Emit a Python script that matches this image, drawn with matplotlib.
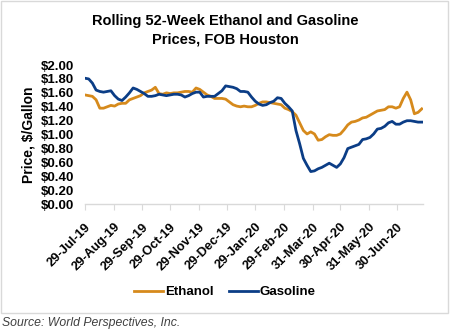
import matplotlib
matplotlib.use("Agg")
import matplotlib.pyplot as plt
from matplotlib.lines import Line2D
from matplotlib.patches import Rectangle
import pandas as pd

plt.rcParams['font.family'] = ['Liberation Sans', 'DejaVu Sans']

title = "Rolling 52-Week Ethanol and Gasoline\nPrices, FOB Houston"
ylabel = "Price, $/Gallon"
source = "Source: World Perspectives, Inc."
series_names = ["Ethanol", "Gasoline"]

dates = pd.date_range("2019-07-29", periods=92, freq="4D")

ethanol = [1.57, 1.56, 1.55, 1.50, 1.38, 1.38, 1.40, 1.42, 1.41, 1.44,
           1.45, 1.45, 1.50, 1.52, 1.54, 1.56, 1.60, 1.62, 1.64, 1.68,
           1.59, 1.58, 1.60, 1.59, 1.60, 1.60, 1.61, 1.62, 1.62, 1.61,
           1.67, 1.65, 1.61, 1.57, 1.55, 1.52, 1.52, 1.52, 1.51, 1.47,
           1.43, 1.41, 1.40, 1.41, 1.40, 1.40, 1.42, 1.45, 1.47, 1.47,
           1.46, 1.45, 1.44, 1.43, 1.38, 1.36, 1.33, 1.28, 1.17, 1.06,
           1.01, 1.04, 1.01, 0.92, 0.93, 0.97, 1.00, 0.99, 0.99, 1.01,
           1.07, 1.14, 1.18, 1.19, 1.21, 1.24, 1.25, 1.28, 1.31, 1.34,
           1.35, 1.36, 1.40, 1.40, 1.38, 1.40, 1.52, 1.61, 1.50, 1.30,
           1.32, 1.37]

gasoline = [1.81, 1.80, 1.74, 1.64, 1.62, 1.61, 1.62, 1.63, 1.56, 1.51,
            1.49, 1.54, 1.60, 1.67, 1.65, 1.62, 1.59, 1.55, 1.55, 1.56,
            1.58, 1.57, 1.56, 1.57, 1.58, 1.58, 1.57, 1.54, 1.56, 1.59,
            1.61, 1.61, 1.54, 1.55, 1.55, 1.55, 1.59, 1.63, 1.70, 1.69,
            1.68, 1.66, 1.62, 1.62, 1.61, 1.54, 1.48, 1.44, 1.42, 1.43,
            1.46, 1.48, 1.53, 1.52, 1.45, 1.40, 1.34, 1.06, 0.87, 0.66,
            0.56, 0.47, 0.48, 0.51, 0.53, 0.56, 0.59, 0.56, 0.53, 0.58,
            0.67, 0.80, 0.82, 0.84, 0.86, 0.93, 0.94, 0.96, 1.01, 1.08,
            1.09, 1.12, 1.17, 1.19, 1.15, 1.15, 1.18, 1.20, 1.20, 1.19,
            1.18, 1.18]

tick_dates = ["2019-07-29", "2019-08-29", "2019-09-29", "2019-10-29",
              "2019-11-29", "2019-12-29", "2020-01-29", "2020-02-29",
              "2020-03-31", "2020-04-30", "2020-05-31", "2020-06-30"]
y_ticks = [0.0, 0.2, 0.4, 0.6, 0.8, 1.0, 1.2, 1.4, 1.6, 1.8, 2.0]

colors = ["#D68A1C", "#0B3D86"]

fig = plt.figure(figsize=(4.5, 3.32), dpi=100)
fig.patch.set_facecolor("white")

# outer chart border
fig.patches.append(Rectangle((1/450, 1 - 313/332), 447/450, 312/332,
                             transform=fig.transFigure, fill=False,
                             edgecolor="#D9D9D9", linewidth=1.0))

ax = fig.add_axes([85/450, 1 - 204.3/332, (422.7 - 85)/450, (204.3 - 65)/332])
ax.plot(dates, ethanol, color=colors[0], linewidth=2.0, label=series_names[0])
ax.plot(dates, gasoline, color=colors[1], linewidth=2.0, label=series_names[1])

ax.set_ylim(0, 2.0)
ax.set_xlim(pd.Timestamp("2019-07-29"), pd.Timestamp("2020-07-28"))
ax.set_yticks(y_ticks)
ax.set_yticklabels([f"${v:.2f}" for v in y_ticks], fontweight="bold", fontsize=9.5)
ax.tick_params(axis="y", length=0, pad=8)

tick_ts = [pd.Timestamp(d) for d in tick_dates]
ax.set_xticks(tick_ts)
ax.set_xticklabels([t.strftime("%d-%b-%y") for t in tick_ts], rotation=45,
                   ha="right", rotation_mode="anchor", fontweight="bold", fontsize=9.3)
ax.tick_params(axis="x", length=4, color="#D9D9D9", pad=8)

for s in ["top", "right", "left"]:
    ax.spines[s].set_visible(False)
ax.spines["bottom"].set_color("#D9D9D9")
ax.spines["bottom"].set_linewidth(1.0)

ax.set_ylabel(ylabel, fontweight="bold", fontsize=10)
ax.yaxis.set_label_coords(-0.148, 0.5)

fig.text(0.5, 1 - 30/332, title, ha="center", va="center", fontsize=10.5,
         fontweight="bold", linespacing=1.4)

handles = [Line2D([0], [0], color=c, linewidth=2.0) for c in colors]
fig.legend(handles, series_names, loc="center", bbox_to_anchor=(0.5, 1 - 292/332),
           ncol=2, frameon=False, prop={"weight": "bold", "size": 9.5},
           handlelength=2.2, handletextpad=0.15, columnspacing=1.1)

fig.text(2/450, 1 - 323/332, source, ha="left", va="center", fontsize=8.8,
         style="italic", color="#404040")

fig.savefig("out.png", dpi=100)
